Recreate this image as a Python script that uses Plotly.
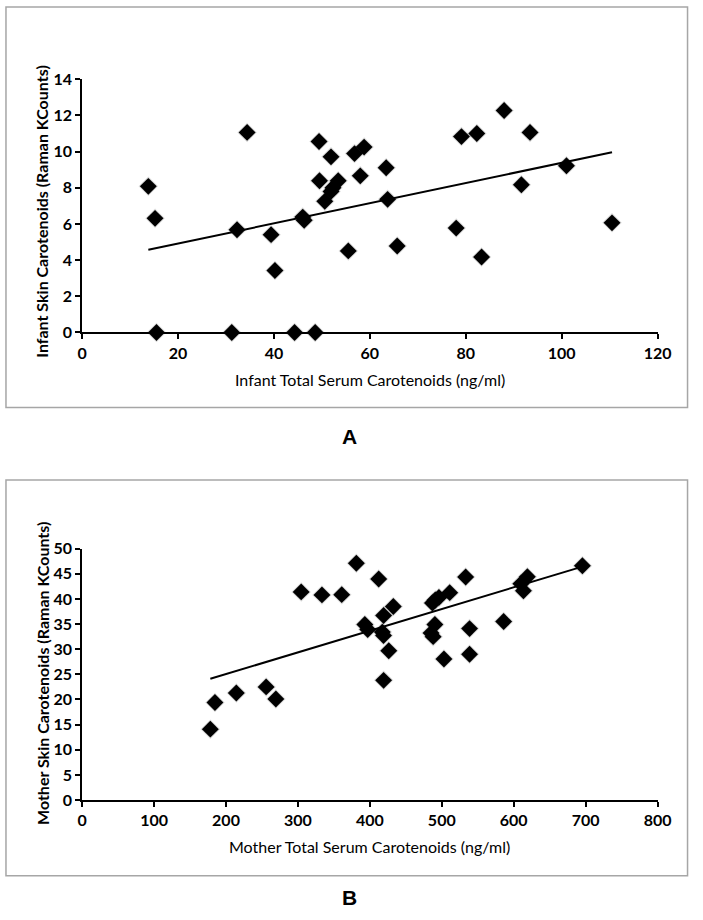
import plotly.graph_objects as go
import numpy as np

# ---------------- Data ----------------
infant_serum = [13.8, 15.2, 15.5, 31.2, 32.3, 34.4, 39.4, 40.2, 44.3, 46.0, 46.3, 48.6,
                49.4, 49.5, 50.6, 51.9, 52.3, 51.9, 53.4, 55.5, 56.8, 58.8, 58.0,
                63.4, 63.7, 65.7, 78.0, 79.1, 82.3, 83.3, 88.0, 91.6, 93.4, 101.0, 110.5]
infant_skin = [8.08, 6.31, 0.0, 0.0, 5.68, 11.06, 5.41, 3.43, 0.0, 6.38, 6.2, 0.0,
               10.56, 8.39, 7.25, 7.8, 8.0, 9.71, 8.39, 4.51, 9.89, 10.25, 8.66,
               9.11, 7.36, 4.78, 5.77, 10.83, 11.0, 4.17, 12.27, 8.17, 11.06, 9.22, 6.06]
infant_trend = {"slope": 0.0558, "intercept": 3.80}

mother_serum = [178.2, 184.6, 214.3, 255.8, 269.3, 304.5, 333.4, 360.9, 381.2, 393.0, 397.0,
                412.3, 419.1, 417.3, 419.0, 432.6, 426.3, 419.1, 485.0, 488.0, 490.4,
                487.0, 491.0, 496.0, 511.0, 503.0, 533.2, 538.6, 538.6, 586.0, 609.9,
                619.0, 613.5, 695.5]
mother_skin = [14.1, 19.4, 21.3, 22.5, 20.1, 41.4, 40.8, 40.85, 47.1, 34.9, 33.9,
               43.97, 36.7, 33.4, 32.7, 38.5, 29.7, 23.8, 33.2, 32.5, 34.9,
               39.2, 39.8, 40.3, 41.25, 28.05, 44.36, 34.1, 29.0, 35.5, 43.0,
               44.4, 41.6, 46.6]
mother_trend = {"slope": 0.0431, "intercept": 16.44}

x_ticks_a = [0, 20, 40, 60, 80, 100, 120]
y_ticks_a = [0, 2, 4, 6, 8, 10, 12, 14]
x_ticks_b = [0, 100, 200, 300, 400, 500, 600, 700, 800]
y_ticks_b = [0, 5, 10, 15, 20, 25, 30, 35, 40, 45, 50]

W, H = 703, 920
FONT = "Lato, 'Open Sans', sans-serif"

def py(px):
    return 1 - px / H

def pxx(px):
    return px / W

fig = go.Figure()

def add_panel(xs, ys, trend, xa, ya):
    # soft shadow
    fig.add_trace(go.Scatter(x=xs, y=ys, mode="markers", xaxis=xa, yaxis=ya,
                             marker=dict(symbol="diamond", size=15, color="rgba(0,0,0,0.15)",
                                         line=dict(width=0)),
                             cliponaxis=False, hoverinfo="skip", showlegend=False))
    fig.add_trace(go.Scatter(x=xs, y=ys, mode="markers", xaxis=xa, yaxis=ya,
                             marker=dict(symbol="diamond", size=13, color="black",
                                         line=dict(width=0)),
                             cliponaxis=False, showlegend=False))
    tx = np.array([min(xs), max(xs)])
    fig.add_trace(go.Scatter(x=tx, y=trend["slope"] * tx + trend["intercept"],
                             mode="lines", xaxis=xa, yaxis=ya,
                             line=dict(color="black", width=2),
                             cliponaxis=False, showlegend=False))

add_panel(infant_serum, infant_skin, infant_trend, "x", "y")
add_panel(mother_serum, mother_skin, mother_trend, "x2", "y2")

axis_common = dict(showgrid=False, zeroline=False, showline=True, linecolor="black",
                   linewidth=2, ticks="outside", ticklen=5, tickwidth=2, tickcolor="black",
                   tickfont=dict(family=FONT, size=16, color="black", weight="bold"))

xd = [pxx(79.3), pxx(670.7)]
fig.update_layout(
    width=W, height=H, margin=dict(l=0, r=0, t=0, b=0),
    paper_bgcolor="white", plot_bgcolor="white",
    xaxis=dict(domain=xd, range=[0, 120], tickvals=x_ticks_a, anchor="y", **axis_common),
    yaxis=dict(domain=[py(329.3), py(70.7)], range=[0, 14], tickvals=y_ticks_a, anchor="x",
               **axis_common),
    xaxis2=dict(domain=xd, range=[0, 800], tickvals=x_ticks_b, anchor="y2", **axis_common),
    yaxis2=dict(domain=[py(806.7), py(550)], range=[0, 50], tickvals=y_ticks_b, anchor="x2",
                **axis_common),
)

# panel borders (panel A's top edge lies above the canvas)
for top, bot in [(-3, 406), (480, 884)]:
    fig.add_shape(type="rect", xref="paper", yref="paper",
                  x0=pxx(1), x1=pxx(701.5), y0=py(bot), y1=py(top),
                  line=dict(color="#a6a6a6", width=1.5), fillcolor="rgba(0,0,0,0)")

ann = []
ann.append(dict(text="Infant Total Serum Carotenoids (ng/ml)", x=pxx(375), y=py(377),
                font=dict(family=FONT, size=16, color="black")))
ann.append(dict(text="Infant Skin Carotenoids (Raman KCounts)", x=pxx(38), y=py(205),
                textangle=-90, font=dict(family=FONT, size=16, color="black", weight="bold")))
ann.append(dict(text="Mother Total Serum Carotenoids (ng/ml)", x=pxx(375), y=py(854),
                font=dict(family=FONT, size=16, color="black")))
ann.append(dict(text="Mother Skin Carotenoids (Raman KCounts)", x=pxx(38), y=py(677),
                textangle=-90, font=dict(family=FONT, size=16, color="black", weight="bold")))
ann.append(dict(text="A", x=pxx(354), y=py(435),
                font=dict(family="Liberation Sans, Arial, sans-serif", size=21, color="black",
                          weight="bold")))
ann.append(dict(text="B", x=pxx(354), y=py(906),
                font=dict(family="Liberation Sans, Arial, sans-serif", size=21, color="black",
                          weight="bold")))
for a in ann:
    fig.add_annotation(xref="paper", yref="paper", showarrow=False,
                       xanchor="center", yanchor="middle", **a)

fig.write_html("out.html", config={"displayModeBar": False},
               post_script="document.body.style.margin='0';document.body.style.overflow='hidden';")
